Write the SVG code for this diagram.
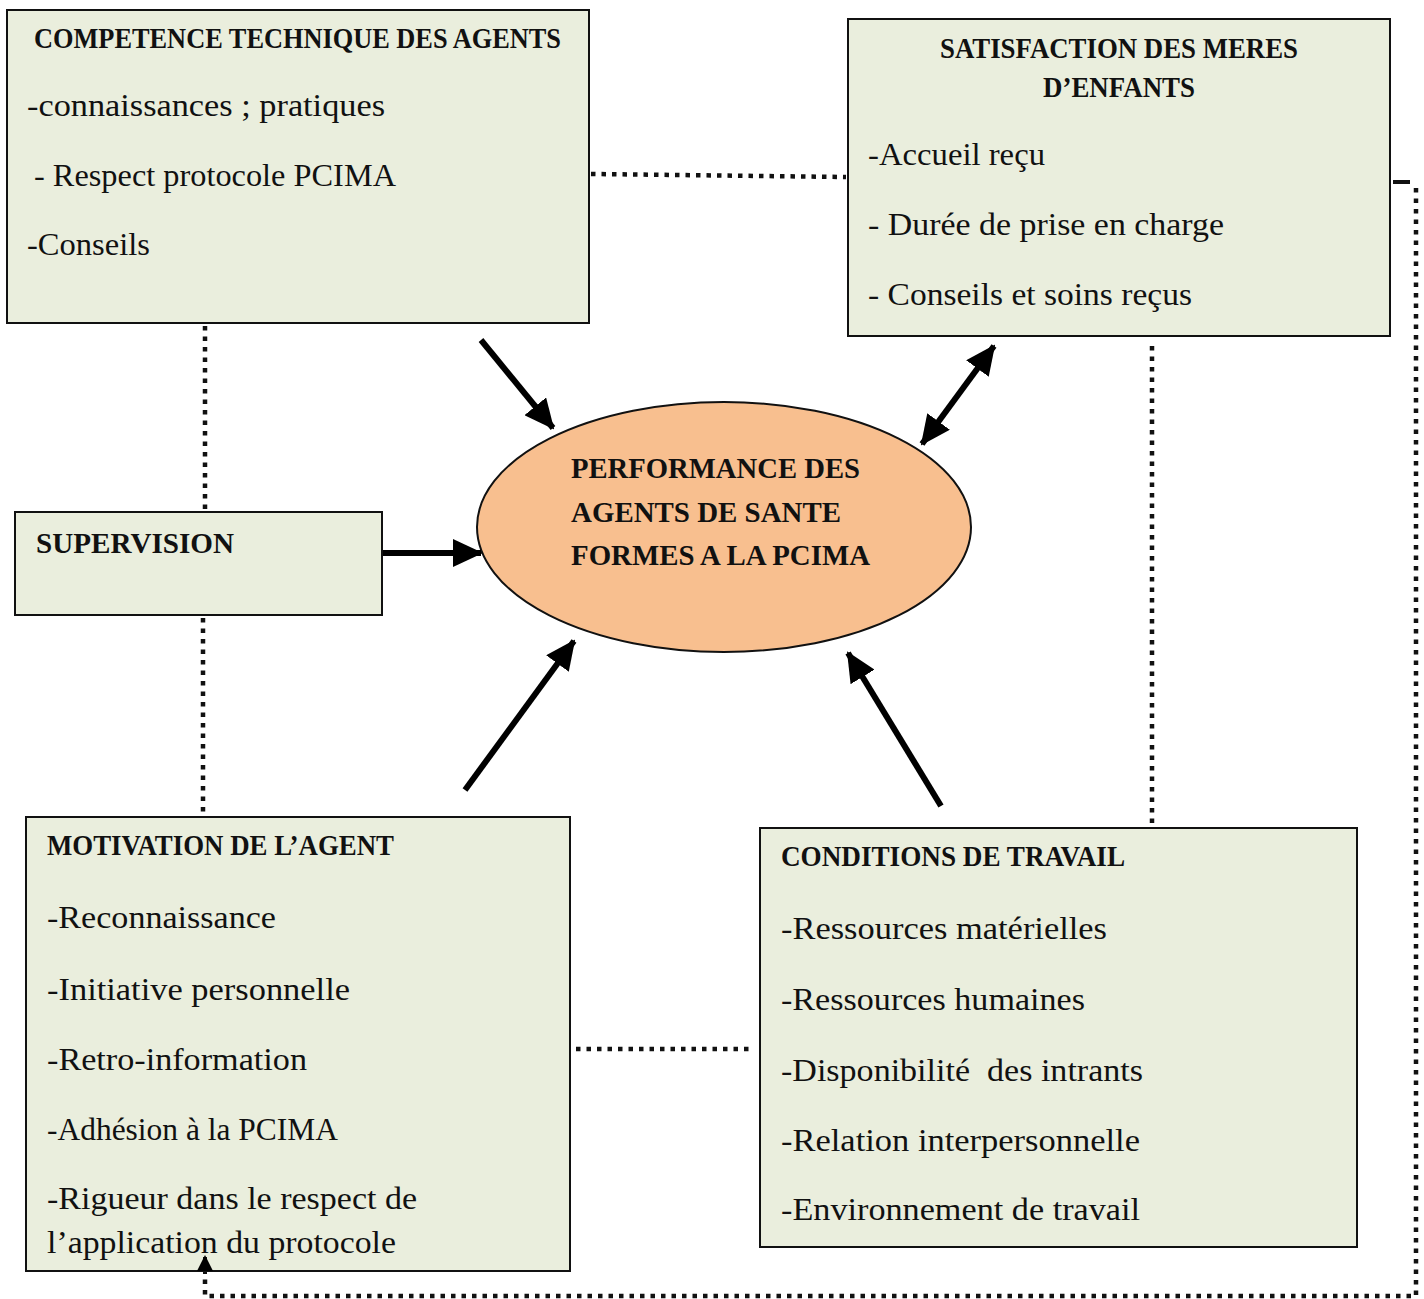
<svg xmlns="http://www.w3.org/2000/svg" width="1424" height="1299" viewBox="0 0 1424 1299">
<style>
.box{fill:#EAEEDD;stroke:#111;stroke-width:2}
.ell{fill:#F8BF8F;stroke:#111;stroke-width:2}
.t{font-family:"Liberation Serif","DejaVu Serif",serif;font-size:31px;fill:#111}
.h{font-family:"Liberation Serif","DejaVu Serif",serif;font-size:29px;font-weight:bold;fill:#111}
.dot{fill:none;stroke:#111;stroke-width:4.5;stroke-dasharray:4.5 6}
.arr{fill:none;stroke:#000;stroke-width:6}
</style>
<defs>
<marker id="ah" markerUnits="userSpaceOnUse" markerWidth="30" markerHeight="28" refX="28" refY="14" orient="auto-start-reverse">
<path d="M0,0 L30,14 L0,28 Z" fill="#000"/>
</marker>
<marker id="ahs" markerUnits="userSpaceOnUse" markerWidth="16" markerHeight="16" refX="14" refY="8" orient="auto">
<path d="M0,0 L16,8 L0,16 Z" fill="#000"/>
</marker>
</defs>
<rect width="1424" height="1299" fill="#fff"/>

<g id="competence">
<rect class="box" x="7" y="10" width="582" height="313"/>
<text class="h" x="34" y="48" textLength="527" lengthAdjust="spacingAndGlyphs">COMPETENCE TECHNIQUE DES AGENTS</text>
<text class="t" x="27" y="116" textLength="358" lengthAdjust="spacingAndGlyphs">-connaissances ; pratiques</text>
<text class="t" x="34" y="186" textLength="362" lengthAdjust="spacingAndGlyphs">- Respect protocole PCIMA</text>
<text class="t" x="27" y="255" textLength="123" lengthAdjust="spacingAndGlyphs">-Conseils</text>
</g>

<g id="satisfaction">
<rect class="box" x="848" y="19" width="542" height="317"/>
<text class="h" x="940" y="58" textLength="358" lengthAdjust="spacingAndGlyphs">SATISFACTION DES MERES</text>
<text class="h" x="1043" y="97" textLength="152" lengthAdjust="spacingAndGlyphs">D’ENFANTS</text>
<text class="t" x="868" y="165" textLength="177" lengthAdjust="spacingAndGlyphs">-Accueil reçu</text>
<text class="t" x="868" y="235" textLength="356" lengthAdjust="spacingAndGlyphs">- Durée de prise en charge</text>
<text class="t" x="868" y="305" textLength="324" lengthAdjust="spacingAndGlyphs">- Conseils et soins reçus</text>
</g>

<g id="performance">
<ellipse class="ell" cx="724" cy="527" rx="247" ry="125"/>
<text class="h" x="571" y="478" textLength="289" lengthAdjust="spacingAndGlyphs">PERFORMANCE DES</text>
<text class="h" x="571" y="522" textLength="270" lengthAdjust="spacingAndGlyphs">AGENTS DE SANTE</text>
<text class="h" x="571" y="565" textLength="299" lengthAdjust="spacingAndGlyphs">FORMES A LA PCIMA</text>
</g>

<g id="supervision">
<rect class="box" x="15" y="512" width="367" height="103"/>
<text class="h" x="36" y="553" textLength="198" lengthAdjust="spacingAndGlyphs">SUPERVISION</text>
</g>

<g id="motivation">
<rect class="box" x="26" y="817" width="544" height="454"/>
<text class="h" x="47" y="855" textLength="347" lengthAdjust="spacingAndGlyphs">MOTIVATION DE L’AGENT</text>
<text class="t" x="47" y="928" textLength="229" lengthAdjust="spacingAndGlyphs">-Reconnaissance</text>
<text class="t" x="47" y="1000" textLength="303" lengthAdjust="spacingAndGlyphs">-Initiative personnelle</text>
<text class="t" x="47" y="1070" textLength="260" lengthAdjust="spacingAndGlyphs">-Retro-information</text>
<text class="t" x="47" y="1140" textLength="291" lengthAdjust="spacingAndGlyphs">-Adhésion à la PCIMA</text>
<text class="t" x="47" y="1209" textLength="370" lengthAdjust="spacingAndGlyphs">-Rigueur dans le respect de</text>
<text class="t" x="47" y="1253" textLength="349" lengthAdjust="spacingAndGlyphs">l’application du protocole</text>
</g>

<g id="conditions">
<rect class="box" x="760" y="828" width="597" height="419"/>
<text class="h" x="781" y="866" textLength="344" lengthAdjust="spacingAndGlyphs">CONDITIONS DE TRAVAIL</text>
<text class="t" x="781" y="939" textLength="326" lengthAdjust="spacingAndGlyphs">-Ressources matérielles</text>
<text class="t" x="781" y="1010" textLength="304" lengthAdjust="spacingAndGlyphs">-Ressources humaines</text>
<text class="t" x="781" y="1081" textLength="362" lengthAdjust="spacingAndGlyphs" xml:space="preserve">-Disponibilité  des intrants</text>
<text class="t" x="781" y="1151" textLength="359" lengthAdjust="spacingAndGlyphs">-Relation interpersonnelle</text>
<text class="t" x="781" y="1220" textLength="359" lengthAdjust="spacingAndGlyphs">-Environnement de travail</text>
</g>

<g id="connectors">
<path class="dot" d="M591,174 L846,177"/>
<path class="dot" d="M205,326 L205,510"/>
<path class="dot" d="M203,618 L203,815"/>
<path class="dot" d="M576,1049 L752,1049"/>
<path class="dot" d="M1152,346 L1152,826"/>
<path d="M1393,182 L1410,182" stroke="#111" stroke-width="4" fill="none"/>
<path class="dot" d="M1416,188 L1416,1296 L205,1296 L205,1274"/>
<path d="M205,1274 L205,1257" stroke="#111" stroke-width="4" fill="none" marker-end="url(#ahs)"/>
<path class="arr" d="M481,340 L553,428" marker-end="url(#ah)"/>
<path class="arr" d="M922,444 L994,346" marker-start="url(#ah)" marker-end="url(#ah)"/>
<path class="arr" d="M383,553 L481,553" marker-end="url(#ah)"/>
<path class="arr" d="M465,790 L574,641" marker-end="url(#ah)"/>
<path class="arr" d="M941,806 L848,653" marker-end="url(#ah)"/>
</g>
</svg>
